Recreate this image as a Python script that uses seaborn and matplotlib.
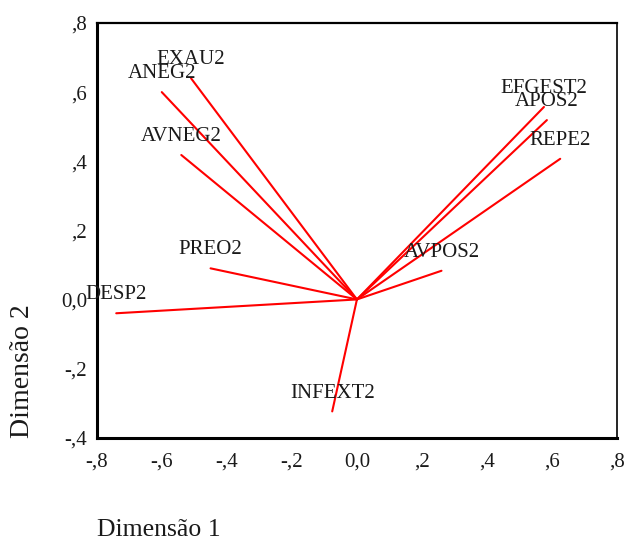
import numpy as np
import pandas as pd
import seaborn as sns
import matplotlib
matplotlib.use("Agg")
import matplotlib.pyplot as plt

# Component loadings on the two dimensions
variables = ["EXAU2", "ANEG2", "AVNEG2", "PREO2", "DESP2",
             "INFEXT2", "AVPOS2", "EFGEST2", "APOS2", "REPE2"]
dim1 = [-0.51, -0.60, -0.54, -0.45, -0.74, -0.076, 0.26, 0.575, 0.584, 0.625]
dim2 = [0.64, 0.60, 0.418, 0.09, -0.04, -0.324, 0.083, 0.557, 0.519, 0.407]

tick_values = [-0.8, -0.6, -0.4, -0.2, 0.0, 0.2, 0.4, 0.6, 0.8]
tick_labels = ["-,8", "-,6", "-,4", "-,2", "0,0", ",2", ",4", ",6", ",8"]
ytick_values = [-0.4, -0.2, 0.0, 0.2, 0.4, 0.6, 0.8]
ytick_labels = ["-,4", "-,2", "0,0", ",2", ",4", ",6", ",8"]

sns.set_style("white")
plt.rcParams["font.family"] = ["Liberation Serif", "DejaVu Serif"]

# Each vector runs from the origin to its loading point
rows = []
for name, x, y in zip(variables, dim1, dim2):
    rows.append({"var": name, "d1": 0.0, "d2": 0.0})
    rows.append({"var": name, "d1": x, "d2": y})
segments = pd.DataFrame(rows)

fig = plt.figure(figsize=(6.24, 5.41), dpi=100)
ax = fig.add_axes([0.155, 0.191, 0.834, 0.7665])

sns.lineplot(data=segments, x="d1", y="d2", units="var", estimator=None,
             sort=False, color="#ff0000", linewidth=1.5, ax=ax, legend=False)

for name, x, y in zip(variables, dim1, dim2):
    ax.annotate(name, (x, y), xytext=(0, 10), textcoords="offset points",
                ha="center", va="baseline", fontsize=15, color="#1a1a1a")

ax.set_xlim(-0.8, 0.8)
ax.set_ylim(-0.4, 0.8)
ax.set_xticks(tick_values)
ax.set_xticklabels(tick_labels)
ax.set_yticks(ytick_values)
ax.set_yticklabels(ytick_labels)
ax.tick_params(axis="both", which="major", direction="out", length=3,
               width=3.5, color="black", labelsize=15, labelcolor="#1a1a1a")
ax.tick_params(axis="x", pad=8)
ax.tick_params(axis="y", pad=4)

for side, lw in [("left", 2.2), ("bottom", 2.2), ("top", 1.6), ("right", 1.2)]:
    ax.spines[side].set_visible(True)
    ax.spines[side].set_linewidth(lw)
    ax.spines[side].set_color("black")

ax.set_xlabel("Dimensão 1", fontsize=18.5, color="#1a1a1a", ha="left", va="center")
ax.xaxis.set_label_coords(0.0, -0.222)
ax.set_ylabel("Dimensão 2", fontsize=20, color="#1a1a1a", ha="left", va="center")
ax.yaxis.set_label_coords(-0.143, 0.0)

fig.savefig("out.png", dpi=100)
